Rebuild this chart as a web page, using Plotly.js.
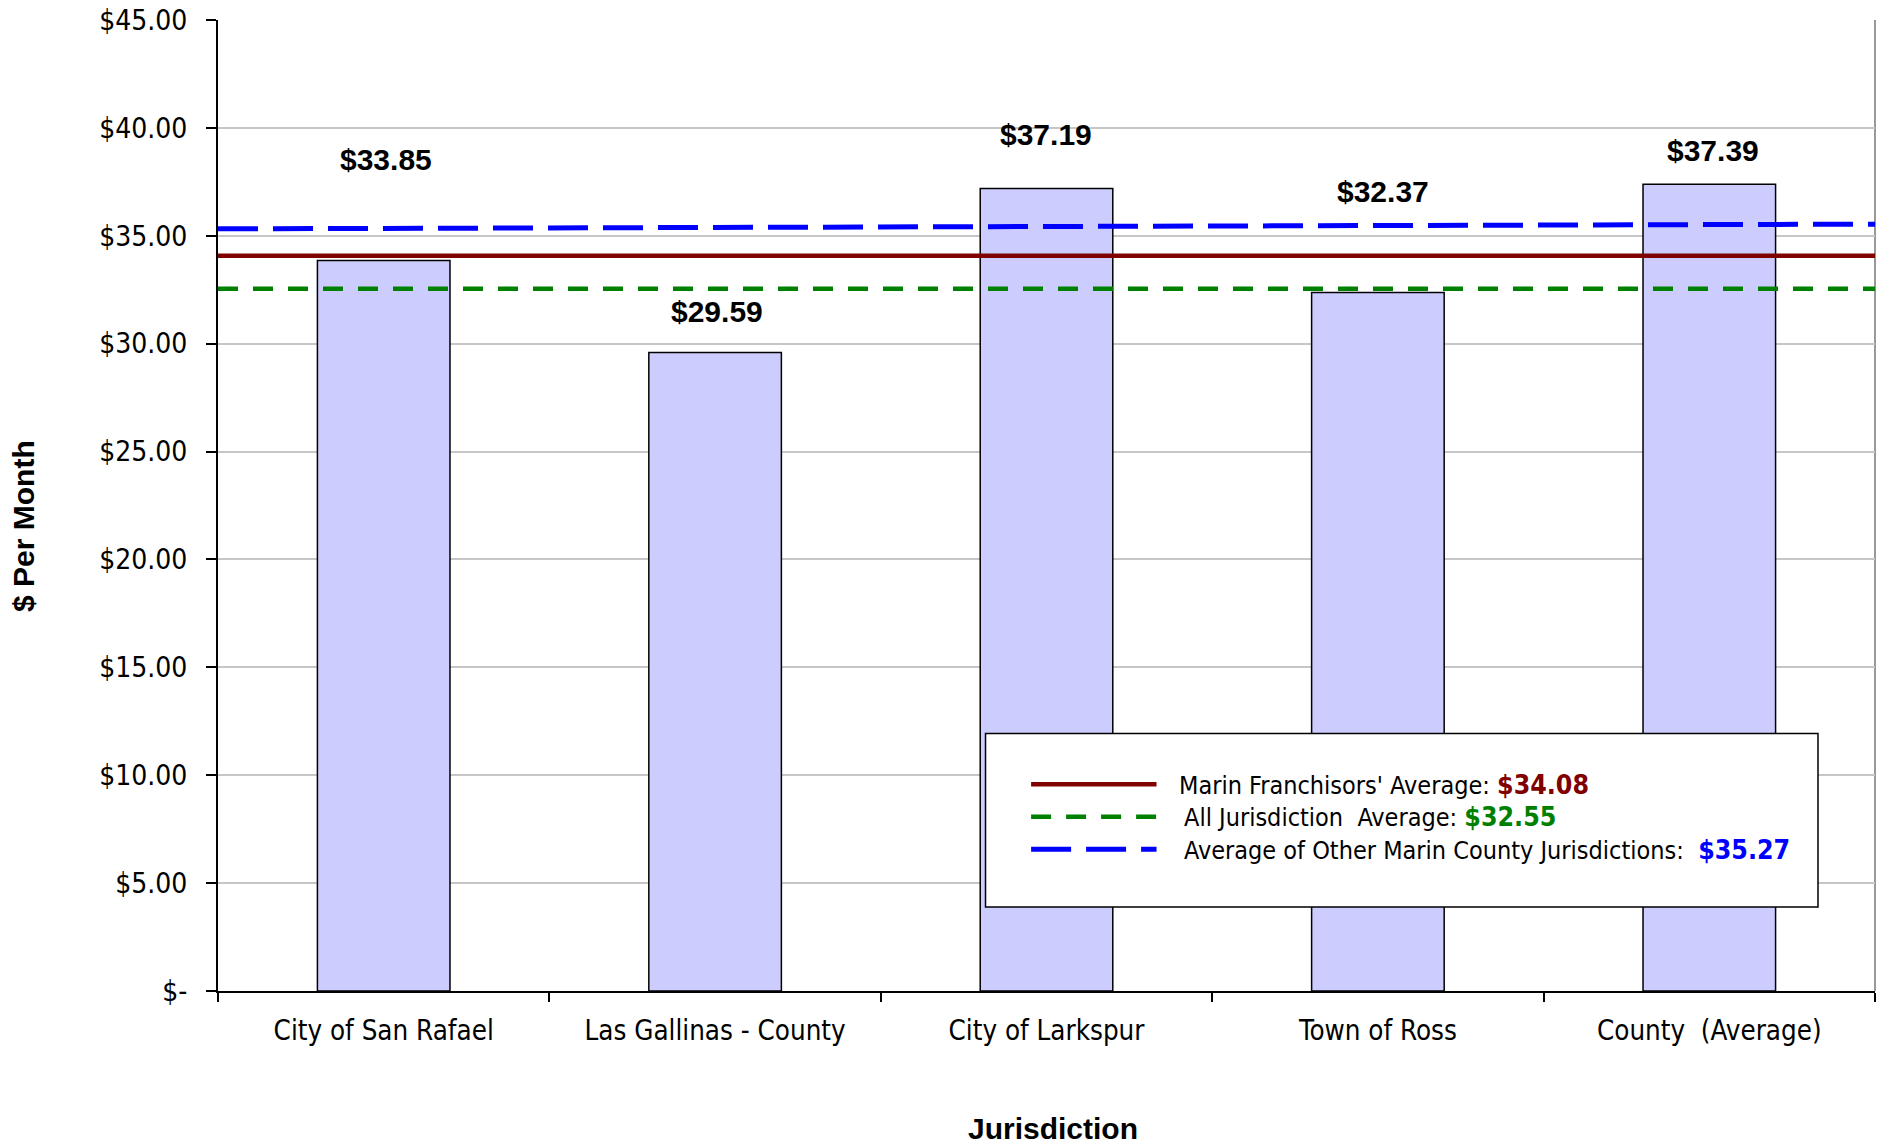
<!DOCTYPE html>
<html>
<head>
<meta charset="utf-8">
<script src="https://cdn.plot.ly/plotly-3.0.1.min.js"></script>
<style>html,body{margin:0;padding:0;background:#fff;}</style>
</head>
<body>
<div id="chart" style="width:1889px;height:1146px;"></div>
<script>
// ---- data ----
const categories = ['City of San Rafael', 'Las Gallinas - County', 'City of Larkspur', 'Town of Ross', 'County  (Average)'];
const rates = [33.85, 29.59, 37.19, 32.37, 37.39];
const rateLabels = ['$33.85', '$29.59', '$37.19', '$32.37', '$37.39'];
const yTickValues = [0, 5, 10, 15, 20, 25, 30, 35, 40, 45];
const yTickLabels = ['$-', '$5.00', '$10.00', '$15.00', '$20.00', '$25.00', '$30.00', '$35.00', '$40.00', '$45.00'];
const franchisorAvg = 34.08;
const allJurisdictionAvg = 32.55;
const otherMarinAvg = 35.27;
// the "other Marin" line is drawn slightly tilted in the original: values at its left / right ends
const otherMarinLineEnds = [35.32, 35.54];
const lineSpan = [0, 1];
const xTitle = 'Jurisdiction';
const yTitle = '$ Per Month';

// ---- styling / layout config ----
const tickFont = 'DejaVu Sans Condensed, DejaVu Sans, sans-serif';
const boldFont = 'Liberation Sans, Arial, sans-serif';
// data label offsets above bar tops (px) as placed in the original
const labelYShift = [101, 41, 54, 101, 34];
const labelXShift = [2, 2, -1, 5, 4];

const traces = [
  {
    type: 'bar', x: categories, y: rates, width: 0.4,
    marker: {color: '#CCCCFF', line: {color: '#000000', width: 1.5}},
    hoverinfo: 'x+y', showlegend: false
  },
  {
    type: 'scatter', mode: 'lines', xaxis: 'x2', yaxis: 'y',
    x: lineSpan, y: [franchisorAvg, franchisorAvg],
    line: {color: '#800000', width: 4.5}, showlegend: false,
    name: "Marin Franchisors' Average"
  },
  {
    type: 'scatter', mode: 'lines', xaxis: 'x2', yaxis: 'y',
    x: lineSpan, y: [allJurisdictionAvg, allJurisdictionAvg],
    line: {color: '#008000', width: 4.5, dash: '20px,15px'}, showlegend: false,
    name: 'All Jurisdiction Average'
  },
  {
    type: 'scatter', mode: 'lines', xaxis: 'x2', yaxis: 'y',
    x: lineSpan, y: otherMarinLineEnds,
    line: {color: '#0000FF', width: 5, dash: '40px,15px'}, showlegend: false,
    name: 'Average of Other Marin County Jurisdictions'
  }
];

const annotations = categories.map((c, i) => ({
  x: c, y: rates[i], xref: 'x', yref: 'y',
  text: rateLabels[i], showarrow: false,
  yanchor: 'middle', xanchor: 'center',
  yshift: labelYShift[i], xshift: labelXShift[i],
  font: {family: boldFont, size: 30, color: '#000000', weight: 'bold'}
}));

// axis titles (placed as in the original, which is not centred on the plot)
annotations.push({
  xref: 'paper', yref: 'paper', x: -0.1171, y: 0.4789, textangle: -90,
  xanchor: 'center', yanchor: 'middle', showarrow: false, text: yTitle,
  font: {family: boldFont, size: 30, color: '#000000', weight: 'bold'}
});
annotations.push({
  xref: 'paper', yref: 'paper', x: 0.5039, y: -0.1421,
  xanchor: 'center', yanchor: 'middle', showarrow: false, text: xTitle,
  font: {family: boldFont, size: 30, color: '#000000', weight: 'bold'}
});

// manual legend (box, samples, texts) in paper coordinates
const legendBox = {x0: 0.4632, x1: 0.9656, y0: 0.0865, y1: 0.2651};
const legendRows = [0.2129, 0.1794, 0.1459];
const sampleX = [0.4907, 0.5664];
const legendTextX = [0.5788, 0.5818, 0.5818];
const valStyle = (col) => '<b><span style="color:' + col + ';font-size:26.5px">';
const legendTexts = [
  "Marin Franchisors' Average: " + valStyle('#800000') + '$' + franchisorAvg.toFixed(2) + '</span></b>',
  'All Jurisdiction  Average: ' + valStyle('#008000') + '$' + allJurisdictionAvg.toFixed(2) + '</span></b>',
  'Average of Other Marin County Jurisdictions:  ' + valStyle('#0000FF') + '$' + otherMarinAvg.toFixed(2) + '</span></b>'
];
const legendLineStyles = [
  {color: '#800000', width: 4.5},
  {color: '#008000', width: 4.5, dash: '20px,15px'},
  {color: '#0000FF', width: 5, dash: '40px,15px'}
];

legendTexts.forEach((t, i) => annotations.push({
  xref: 'paper', yref: 'paper', x: legendTextX[i], y: legendRows[i],
  xanchor: 'left', yanchor: 'middle', showarrow: false, text: t,
  font: {family: tickFont, size: 25, color: '#000000'}
}));

const shapes = [
  {type: 'line', xref: 'paper', yref: 'paper', x0: 1, x1: 1, y0: 0, y1: 1,
   line: {color: '#999999', width: 2}, layer: 'below'},
  {type: 'rect', xref: 'paper', yref: 'paper', x0: legendBox.x0, x1: legendBox.x1,
   y0: legendBox.y0, y1: legendBox.y1, fillcolor: '#FFFFFF',
   line: {color: '#000000', width: 1.5}, layer: 'above'}
];
legendRows.forEach((r, i) => shapes.push({
  type: 'line', xref: 'paper', yref: 'paper', x0: sampleX[0], x1: sampleX[1],
  y0: r, y1: r, line: legendLineStyles[i], layer: 'above'
}));

const layout = {
  width: 1889, height: 1146,
  margin: {l: 218, r: 14, t: 20, b: 155, pad: 0},
  paper_bgcolor: '#FFFFFF', plot_bgcolor: '#FFFFFF',
  showlegend: false,
  font: {family: tickFont, size: 27, color: '#000000'},
  xaxis: {
    type: 'category', range: [-0.5, 4.5],
    showline: true, linecolor: '#000000', linewidth: 2,
    ticks: 'outside', tickson: 'boundaries', ticklen: 9, tickwidth: 1.5, tickcolor: '#000000',
    showgrid: false, zeroline: false,
    tickfont: {family: tickFont, size: 27.5, color: '#000000'},
    ticklabelstandoff: 14
  },
  xaxis2: {overlaying: 'x', range: [0, 1], visible: false, fixedrange: true},
  yaxis: {
    range: [0, 45], tickvals: yTickValues, ticktext: yTickLabels,
    showline: true, linecolor: '#000000', linewidth: 2,
    ticks: 'outside', ticklen: 10, tickwidth: 2, tickcolor: '#000000',
    showgrid: true, gridcolor: '#C6C6C6', gridwidth: 1.5, zeroline: false,
    tickfont: {family: tickFont, size: 28, color: '#000000'},
    ticklabelstandoff: 13
  },
  annotations: annotations,
  shapes: shapes
};

Plotly.newPlot('chart', traces, layout, {displayModeBar: false, responsive: false});
</script>
</body>
</html>
